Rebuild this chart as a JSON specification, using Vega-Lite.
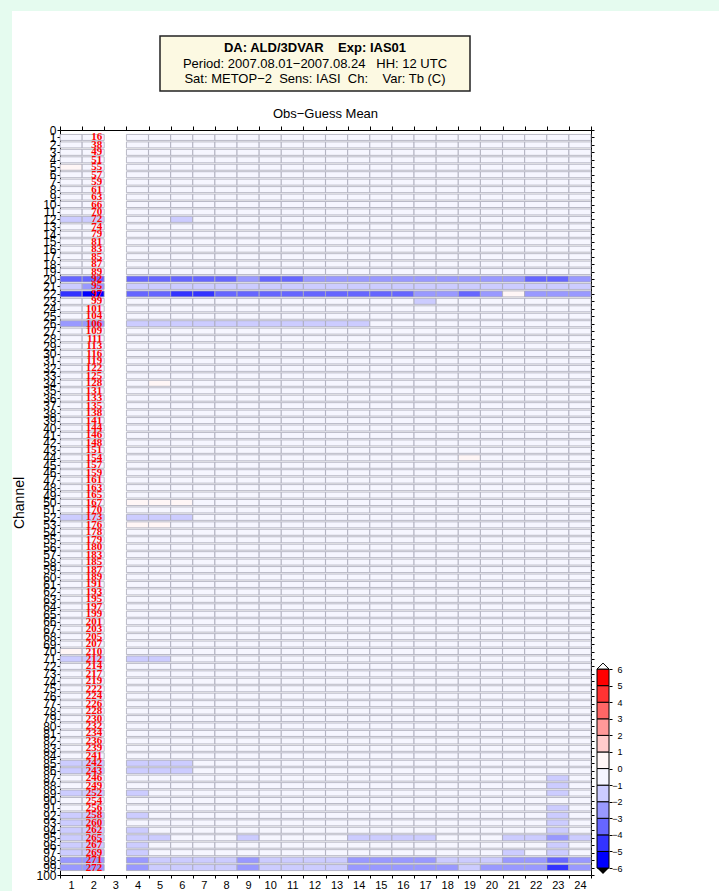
{
  "$schema": "https://vega.github.io/schema/vega-lite/v6.json",
  "background": "white",
  "padding": 0,
  "config": {
    "font": "Liberation Sans",
    "view": {"stroke": null},
    "axis": {"labelFont": "Liberation Sans", "titleFont": "Liberation Sans", "labelColor": "black", "titleColor": "black", "domainColor": "black", "tickColor": "black", "grid": false},
    "title": {"font": "Liberation Sans", "color": "black"}
  },
  "vconcat": [
    {"width": 719, "height": 11, "view": {"fill": "#e5fbef", "stroke": null}, "data": {"values": []}, "mark": "rect", "encoding": {}},
    {
      "hconcat": [
        {"width": 12, "height": 880, "view": {"fill": "#e5fbef", "stroke": null}, "data": {"values": []}, "mark": "rect", "encoding": {}},
        {
          "vconcat": [
            {"width": 1, "height": 8, "view": {"fill": "#ffffff", "stroke": null}, "data": {"values": []}, "mark": "rect", "encoding": {}},
            {
              "hconcat": [
                {"width": 99, "height": 55, "view": {"fill": "#ffffff", "stroke": null}, "data": {"values": []}, "mark": "rect", "encoding": {}},
                {
                  "width": 310,
                  "height": 55,
                  "view": {"fill": "#fcf9e2", "stroke": "#222222", "strokeWidth": 1.5},
                  "data": {"values": [
                    {"line": 1, "t": "DA: ALD/3DVAR\u00a0\u00a0\u00a0\u00a0Exp: IAS01"},
                    {"line": 2, "t": "Period: 2007.08.01\u22122007.08.24\u00a0\u00a0\u00a0HH: 12 UTC"},
                    {"line": 3, "t": "Sat: METOP\u22122\u00a0\u00a0Sens: IASI\u00a0\u00a0Ch:\u00a0\u00a0\u00a0\u00a0Var: Tb (C)"}
                  ]},
                  "layer": [
                    {
                      "transform": [{"filter": "datum.line == 1"}],
                      "mark": {"type": "text", "fontSize": 13, "fontWeight": "bold", "baseline": "middle", "color": "black"},
                      "encoding": {
                        "y": {"field": "line", "type": "ordinal", "scale": {"type": "point", "domain": [1, 2, 3], "padding": 0.77}, "axis": null},
                        "text": {"field": "t"}
                      }
                    },
                    {
                      "transform": [{"filter": "datum.line > 1"}],
                      "mark": {"type": "text", "fontSize": 13, "baseline": "middle", "color": "black"},
                      "encoding": {
                        "y": {"field": "line", "type": "ordinal", "axis": null},
                        "text": {"field": "t"}
                      }
                    }
                  ]
                }
              ],
              "spacing": 0
            },
            {
              "hconcat": [
                {
                  "width": 531,
                  "height": 745,
                  "title": {"text": "Obs\u2212Guess Mean", "fontSize": 13, "fontWeight": "normal", "offset": 3},
                  "data": {"values": [
{"i":1,"ch":16,"1":-0.4,"2":-0.4,"4":-0.4,"5":-0.4,"6":-0.4,"7":-0.4,"8":-0.4,"9":-0.4,"10":-0.4,"11":-0.4,"12":-0.4,"13":-0.4,"14":-0.4,"15":-0.4,"16":-0.4,"17":-0.4,"18":-0.4,"19":-0.4,"20":-0.4,"21":-0.4,"22":-0.4,"23":-0.4,"24":-0.4},
{"i":2,"ch":38,"1":-0.4,"2":-0.4,"4":-0.4,"5":-0.4,"6":-0.4,"7":-0.4,"8":-0.4,"9":-0.4,"10":-0.4,"11":-0.4,"12":-0.4,"13":-0.4,"14":-0.4,"15":-0.4,"16":-0.4,"17":-0.4,"18":-0.4,"19":-0.4,"20":-0.4,"21":-0.4,"22":-0.4,"23":-0.4,"24":-0.4},
{"i":3,"ch":49,"1":-0.4,"2":-0.4,"4":-0.4,"5":-0.4,"6":-0.4,"7":-0.4,"8":-0.4,"9":-0.4,"10":-0.4,"11":-0.4,"12":-0.4,"13":-0.4,"14":-0.4,"15":-0.4,"16":-0.4,"17":-0.4,"18":-0.4,"19":-0.4,"20":-0.4,"21":-0.4,"22":-0.4,"23":-0.4,"24":-0.4},
{"i":4,"ch":51,"1":-0.4,"2":-0.4,"4":-0.4,"5":-0.4,"6":-0.4,"7":-0.4,"8":-0.4,"9":-0.4,"10":-0.4,"11":-0.4,"12":-0.4,"13":-0.4,"14":-0.4,"15":-0.4,"16":-0.4,"17":-0.4,"18":-0.4,"19":-0.4,"20":-0.4,"21":-0.4,"22":-0.4,"23":-0.4,"24":-0.4},
{"i":5,"ch":55,"1":0.4,"2":-0.4,"4":-0.4,"5":-0.4,"6":-0.4,"7":-0.4,"8":-0.4,"9":-0.4,"10":-0.4,"11":-0.4,"12":-0.4,"13":-0.4,"14":-0.4,"15":-0.4,"16":-0.4,"17":-0.4,"18":-0.4,"19":-0.4,"20":-0.4,"21":-0.4,"22":-0.4,"23":-0.4,"24":-0.4},
{"i":6,"ch":57,"1":-0.4,"2":-0.4,"4":-0.4,"5":-0.4,"6":-0.4,"7":-0.4,"8":-0.4,"9":-0.4,"10":-0.4,"11":-0.4,"12":-0.4,"13":-0.4,"14":-0.4,"15":-0.4,"16":-0.4,"17":-0.4,"18":-0.4,"19":-0.4,"20":-0.4,"21":-0.4,"22":-0.4,"23":-0.4,"24":-0.4},
{"i":7,"ch":59,"1":-0.4,"2":-0.4,"4":-0.4,"5":-0.4,"6":-0.4,"7":-0.4,"8":-0.4,"9":-0.4,"10":-0.4,"11":-0.4,"12":-0.4,"13":-0.4,"14":-0.4,"15":-0.4,"16":-0.4,"17":-0.4,"18":-0.4,"19":-0.4,"20":-0.4,"21":-0.4,"22":-0.4,"23":-0.4,"24":-0.4},
{"i":8,"ch":61,"1":-0.4,"2":-0.4,"4":-0.4,"5":-0.4,"6":-0.4,"7":-0.4,"8":-0.4,"9":-0.4,"10":-0.4,"11":-0.4,"12":-0.4,"13":-0.4,"14":-0.4,"15":-0.4,"16":-0.4,"17":-0.4,"18":-0.4,"19":-0.4,"20":-0.4,"21":-0.4,"22":-0.4,"23":-0.4,"24":-0.4},
{"i":9,"ch":63,"1":-0.4,"2":-0.4,"4":-0.4,"5":-0.4,"6":-0.4,"7":-0.4,"8":-0.4,"9":-0.4,"10":-0.4,"11":-0.4,"12":-0.4,"13":-0.4,"14":-0.4,"15":-0.4,"16":-0.4,"17":-0.4,"18":-0.4,"19":-0.4,"20":-0.4,"21":-0.4,"22":-0.4,"23":-0.4,"24":-0.4},
{"i":10,"ch":66,"1":-0.4,"2":-0.4,"4":-0.4,"5":-0.4,"6":-0.4,"7":-0.4,"8":-0.4,"9":-0.4,"10":-0.4,"11":-0.4,"12":-0.4,"13":-0.4,"14":-0.4,"15":-0.4,"16":-0.4,"17":-0.4,"18":-0.4,"19":-0.4,"20":-0.4,"21":-0.4,"22":-0.4,"23":-0.4,"24":-0.4},
{"i":11,"ch":70,"1":-0.4,"2":-0.4,"4":-0.4,"5":-0.4,"6":-0.4,"7":-0.4,"8":-0.4,"9":-0.4,"10":-0.4,"11":-0.4,"12":-0.4,"13":-0.4,"14":-0.4,"15":-0.4,"16":-0.4,"17":-0.4,"18":-0.4,"19":-0.4,"20":-0.4,"21":-0.4,"22":-0.4,"23":-0.4,"24":-0.4},
{"i":12,"ch":72,"1":-1.5,"2":-1.5,"4":-0.4,"5":-0.4,"6":-1.5,"7":-0.4,"8":-0.4,"9":-0.4,"10":-0.4,"11":-0.4,"12":-0.4,"13":-0.4,"14":-0.4,"15":-0.4,"16":-0.4,"17":-0.4,"18":-0.4,"19":-0.4,"20":-0.4,"21":-0.4,"22":-0.4,"23":-0.4,"24":-0.4},
{"i":13,"ch":74,"1":-0.4,"2":-0.4,"4":-0.4,"5":-0.4,"6":-0.4,"7":-0.4,"8":-0.4,"9":-0.4,"10":-0.4,"11":-0.4,"12":-0.4,"13":-0.4,"14":-0.4,"15":-0.4,"16":-0.4,"17":-0.4,"18":-0.4,"19":-0.4,"20":-0.4,"21":-0.4,"22":-0.4,"23":-0.4,"24":-0.4},
{"i":14,"ch":79,"1":-0.4,"2":-0.4,"4":-0.4,"5":-0.4,"6":-0.4,"7":-0.4,"8":-0.4,"9":-0.4,"10":-0.4,"11":-0.4,"12":-0.4,"13":-0.4,"14":-0.4,"15":-0.4,"16":-0.4,"17":-0.4,"18":-0.4,"19":-0.4,"20":-0.4,"21":-0.4,"22":-0.4,"23":-0.4,"24":-0.4},
{"i":15,"ch":81,"1":-0.4,"2":-0.4,"4":-0.4,"5":-0.4,"6":-0.4,"7":-0.4,"8":-0.4,"9":-0.4,"10":-0.4,"11":-0.4,"12":-0.4,"13":-0.4,"14":-0.4,"15":-0.4,"16":-0.4,"17":-0.4,"18":-0.4,"19":-0.4,"20":-0.4,"21":-0.4,"22":-0.4,"23":-0.4,"24":-0.4},
{"i":16,"ch":83,"1":-0.4,"2":-0.4,"4":-0.4,"5":-0.4,"6":-0.4,"7":-0.4,"8":-0.4,"9":-0.4,"10":-0.4,"11":-0.4,"12":-0.4,"13":-0.4,"14":-0.4,"15":-0.4,"16":-0.4,"17":-0.4,"18":-0.4,"19":-0.4,"20":-0.4,"21":-0.4,"22":-0.4,"23":-0.4,"24":-0.4},
{"i":17,"ch":85,"1":-0.4,"2":-0.4,"4":-0.4,"5":-0.4,"6":-0.4,"7":-0.4,"8":-0.4,"9":-0.4,"10":-0.4,"11":-0.4,"12":-0.4,"13":-0.4,"14":-0.4,"15":-0.4,"16":-0.4,"17":-0.4,"18":-0.4,"19":-0.4,"20":-0.4,"21":-0.4,"22":-0.4,"23":-0.4,"24":-0.4},
{"i":18,"ch":87,"1":-0.4,"2":-0.4,"4":-0.4,"5":-0.4,"6":-0.4,"7":-0.4,"8":-0.4,"9":-0.4,"10":-0.4,"11":-0.4,"12":-0.4,"13":-0.4,"14":-0.4,"15":-0.4,"16":-0.4,"17":-0.4,"18":-0.4,"19":-0.4,"20":-0.4,"21":-0.4,"22":-0.4,"23":-0.4,"24":-0.4},
{"i":19,"ch":89,"1":-0.4,"2":-0.4,"4":-0.4,"5":-0.4,"6":-0.4,"7":-0.4,"8":-0.4,"9":-0.4,"10":-0.4,"11":-0.4,"12":-0.4,"13":-0.4,"14":-0.4,"15":-0.4,"16":-0.4,"17":-0.4,"18":-0.4,"19":-0.4,"20":-0.4,"21":-0.4,"22":-0.4,"23":-0.4,"24":-0.4},
{"i":20,"ch":92,"1":-3.5,"2":-3.5,"4":-3.5,"5":-3.5,"6":-3.5,"7":-3.5,"8":-3.5,"9":-2.5,"10":-3.5,"11":-3.5,"12":-2.5,"13":-2.5,"14":-2.5,"15":-2.5,"16":-2.5,"17":-2.5,"18":-2.5,"19":-2.5,"20":-2.5,"21":-2.5,"22":-3.5,"23":-3.5,"24":-2.5},
{"i":21,"ch":95,"1":-1.5,"2":-2.5,"4":-1.5,"5":-1.5,"6":-1.5,"7":-1.5,"8":-1.5,"9":-1.5,"10":-1.5,"11":-1.5,"12":-1.5,"13":-1.5,"14":-1.5,"15":-1.5,"16":-1.5,"17":-1.5,"18":-1.5,"19":-1.5,"20":-1.5,"21":-1.5,"22":-1.5,"23":-1.5,"24":-1.5},
{"i":22,"ch":97,"1":-4.5,"2":-5.5,"4":-3.5,"5":-3.5,"6":-4.5,"7":-4.5,"8":-3.5,"9":-3.5,"10":-3.5,"11":-3.5,"12":-3.5,"13":-3.5,"14":-3.5,"15":-3.5,"16":-3.5,"17":-2.5,"18":-2.5,"19":-3.5,"20":-2.5,"21":0.4,"22":-2.5,"23":-2.5,"24":-2.5},
{"i":23,"ch":99,"1":-0.4,"2":-0.4,"4":-0.4,"5":-0.4,"6":-0.4,"7":-0.4,"8":-0.4,"9":-0.4,"10":-0.4,"11":-0.4,"12":-0.4,"13":-0.4,"14":-0.4,"15":-0.4,"16":-0.4,"17":-1.5,"18":-0.4,"19":-0.4,"20":-0.4,"21":-0.4,"22":-0.4,"23":-0.4,"24":-0.4},
{"i":24,"ch":101,"1":-0.4,"2":-0.4,"4":-0.4,"5":-0.4,"6":-0.4,"7":-0.4,"8":-0.4,"9":-0.4,"10":-0.4,"11":-0.4,"12":-0.4,"13":-0.4,"14":-0.4,"15":-0.4,"16":-0.4,"17":-0.4,"18":-0.4,"19":-0.4,"20":-0.4,"21":-0.4,"22":-0.4,"23":-0.4,"24":-0.4},
{"i":25,"ch":104,"1":-0.4,"2":-0.4,"4":-0.4,"5":-0.4,"6":-0.4,"7":-0.4,"8":-0.4,"9":-0.4,"10":-0.4,"11":-0.4,"12":-0.4,"13":-0.4,"14":-0.4,"15":-0.4,"16":-0.4,"17":-0.4,"18":-0.4,"19":-0.4,"20":-0.4,"21":-0.4,"22":-0.4,"23":-0.4,"24":-0.4},
{"i":26,"ch":106,"1":-2.5,"2":-2.5,"4":-1.5,"5":-1.5,"6":-1.5,"7":-1.5,"8":-1.5,"9":-1.5,"10":-1.5,"11":-1.5,"12":-1.5,"13":-1.5,"14":-1.5,"15":-0.4,"16":-0.4,"17":-0.4,"18":-0.4,"19":-0.4,"20":-0.4,"21":-0.4,"22":-0.4,"23":-0.4,"24":-0.4},
{"i":27,"ch":109,"1":-0.4,"2":-0.4,"4":-0.4,"5":-0.4,"6":-0.4,"7":-0.4,"8":-0.4,"9":-0.4,"10":-0.4,"11":-0.4,"12":-0.4,"13":-0.4,"14":-0.4,"15":-0.4,"16":-0.4,"17":-0.4,"18":-0.4,"19":-0.4,"20":-0.4,"21":-0.4,"22":-0.4,"23":-0.4,"24":-0.4},
{"i":28,"ch":111,"1":-0.4,"2":-0.4,"4":-0.4,"5":-0.4,"6":-0.4,"7":-0.4,"8":-0.4,"9":-0.4,"10":-0.4,"11":-0.4,"12":-0.4,"13":-0.4,"14":-0.4,"15":-0.4,"16":-0.4,"17":-0.4,"18":-0.4,"19":-0.4,"20":-0.4,"21":-0.4,"22":-0.4,"23":-0.4,"24":-0.4},
{"i":29,"ch":113,"1":-0.4,"2":-0.4,"4":-0.4,"5":-0.4,"6":-0.4,"7":-0.4,"8":-0.4,"9":-0.4,"10":-0.4,"11":-0.4,"12":-0.4,"13":-0.4,"14":-0.4,"15":-0.4,"16":-0.4,"17":-0.4,"18":-0.4,"19":-0.4,"20":-0.4,"21":-0.4,"22":-0.4,"23":-0.4,"24":-0.4},
{"i":30,"ch":116,"1":-0.4,"2":-0.4,"4":-0.4,"5":-0.4,"6":-0.4,"7":-0.4,"8":-0.4,"9":-0.4,"10":-0.4,"11":-0.4,"12":-0.4,"13":-0.4,"14":-0.4,"15":-0.4,"16":-0.4,"17":-0.4,"18":-0.4,"19":-0.4,"20":-0.4,"21":-0.4,"22":-0.4,"23":-0.4,"24":-0.4},
{"i":31,"ch":119,"1":-0.4,"2":-0.4,"4":-0.4,"5":-0.4,"6":-0.4,"7":-0.4,"8":-0.4,"9":-0.4,"10":-0.4,"11":-0.4,"12":-0.4,"13":-0.4,"14":-0.4,"15":-0.4,"16":-0.4,"17":-0.4,"18":-0.4,"19":-0.4,"20":-0.4,"21":-0.4,"22":-0.4,"23":-0.4,"24":-0.4},
{"i":32,"ch":122,"1":-0.4,"2":-0.4,"4":-0.4,"5":-0.4,"6":-0.4,"7":-0.4,"8":-0.4,"9":-0.4,"10":-0.4,"11":-0.4,"12":-0.4,"13":-0.4,"14":-0.4,"15":-0.4,"16":-0.4,"17":-0.4,"18":-0.4,"19":-0.4,"20":-0.4,"21":-0.4,"22":-0.4,"23":-0.4,"24":-0.4},
{"i":33,"ch":125,"1":-0.4,"2":-0.4,"4":-0.4,"5":-0.4,"6":-0.4,"7":-0.4,"8":-0.4,"9":-0.4,"10":-0.4,"11":-0.4,"12":-0.4,"13":-0.4,"14":-0.4,"15":-0.4,"16":-0.4,"17":-0.4,"18":-0.4,"19":-0.4,"20":-0.4,"21":-0.4,"22":-0.4,"23":-0.4,"24":-0.4},
{"i":34,"ch":128,"1":-0.4,"2":-0.4,"4":-0.4,"5":0.4,"6":-0.4,"7":-0.4,"8":-0.4,"9":-0.4,"10":-0.4,"11":-0.4,"12":-0.4,"13":-0.4,"14":-0.4,"15":-0.4,"16":-0.4,"17":-0.4,"18":-0.4,"19":-0.4,"20":-0.4,"21":-0.4,"22":-0.4,"23":-0.4,"24":-0.4},
{"i":35,"ch":131,"1":-0.4,"2":-0.4,"4":-0.4,"5":-0.4,"6":-0.4,"7":-0.4,"8":-0.4,"9":-0.4,"10":-0.4,"11":-0.4,"12":-0.4,"13":-0.4,"14":-0.4,"15":-0.4,"16":-0.4,"17":-0.4,"18":-0.4,"19":-0.4,"20":-0.4,"21":-0.4,"22":-0.4,"23":-0.4,"24":-0.4},
{"i":36,"ch":133,"1":-0.4,"2":-0.4,"4":-0.4,"5":-0.4,"6":-0.4,"7":-0.4,"8":-0.4,"9":-0.4,"10":-0.4,"11":-0.4,"12":-0.4,"13":-0.4,"14":-0.4,"15":-0.4,"16":-0.4,"17":-0.4,"18":-0.4,"19":-0.4,"20":-0.4,"21":-0.4,"22":-0.4,"23":-0.4,"24":-0.4},
{"i":37,"ch":135,"1":-0.4,"2":-0.4,"4":-0.4,"5":-0.4,"6":-0.4,"7":-0.4,"8":-0.4,"9":-0.4,"10":-0.4,"11":-0.4,"12":-0.4,"13":-0.4,"14":-0.4,"15":-0.4,"16":-0.4,"17":-0.4,"18":-0.4,"19":-0.4,"20":-0.4,"21":-0.4,"22":-0.4,"23":-0.4,"24":-0.4},
{"i":38,"ch":138,"1":-0.4,"2":-0.4,"4":-0.4,"5":-0.4,"6":-0.4,"7":-0.4,"8":-0.4,"9":-0.4,"10":-0.4,"11":-0.4,"12":-0.4,"13":-0.4,"14":-0.4,"15":-0.4,"16":-0.4,"17":-0.4,"18":-0.4,"19":-0.4,"20":-0.4,"21":-0.4,"22":-0.4,"23":-0.4,"24":-0.4},
{"i":39,"ch":141,"1":-0.4,"2":-0.4,"4":-0.4,"5":-0.4,"6":-0.4,"7":-0.4,"8":-0.4,"9":-0.4,"10":-0.4,"11":-0.4,"12":-0.4,"13":-0.4,"14":-0.4,"15":-0.4,"16":-0.4,"17":-0.4,"18":-0.4,"19":-0.4,"20":-0.4,"21":-0.4,"22":-0.4,"23":-0.4,"24":-0.4},
{"i":40,"ch":144,"1":-0.4,"2":-0.4,"4":-0.4,"5":-0.4,"6":-0.4,"7":-0.4,"8":-0.4,"9":-0.4,"10":-0.4,"11":-0.4,"12":-0.4,"13":-0.4,"14":-0.4,"15":-0.4,"16":-0.4,"17":-0.4,"18":-0.4,"19":-0.4,"20":-0.4,"21":-0.4,"22":-0.4,"23":-0.4,"24":-0.4},
{"i":41,"ch":146,"1":-0.4,"2":-0.4,"4":-0.4,"5":-0.4,"6":-0.4,"7":-0.4,"8":-0.4,"9":-0.4,"10":-0.4,"11":-0.4,"12":-0.4,"13":-0.4,"14":-0.4,"15":-0.4,"16":-0.4,"17":-0.4,"18":-0.4,"19":-0.4,"20":-0.4,"21":-0.4,"22":-0.4,"23":-0.4,"24":-0.4},
{"i":42,"ch":148,"1":-0.4,"2":-0.4,"4":-0.4,"5":-0.4,"6":-0.4,"7":-0.4,"8":-0.4,"9":-0.4,"10":-0.4,"11":-0.4,"12":-0.4,"13":-0.4,"14":-0.4,"15":-0.4,"16":-0.4,"17":-0.4,"18":-0.4,"19":-0.4,"20":-0.4,"21":-0.4,"22":-0.4,"23":-0.4,"24":-0.4},
{"i":43,"ch":151,"1":-0.4,"2":-0.4,"4":-0.4,"5":-0.4,"6":-0.4,"7":-0.4,"8":-0.4,"9":-0.4,"10":-0.4,"11":-0.4,"12":-0.4,"13":-0.4,"14":-0.4,"15":-0.4,"16":-0.4,"17":-0.4,"18":-0.4,"19":-0.4,"20":-0.4,"21":-0.4,"22":-0.4,"23":-0.4,"24":-0.4},
{"i":44,"ch":154,"1":-0.4,"2":-0.4,"4":-0.4,"5":-0.4,"6":-0.4,"7":-0.4,"8":-0.4,"9":-0.4,"10":-0.4,"11":-0.4,"12":-0.4,"13":-0.4,"14":-0.4,"15":-0.4,"16":-0.4,"17":-0.4,"18":-0.4,"19":0.4,"20":-0.4,"21":-0.4,"22":-0.4,"23":-0.4,"24":-0.4},
{"i":45,"ch":157,"1":-0.4,"2":-0.4,"4":-0.4,"5":-0.4,"6":-0.4,"7":-0.4,"8":-0.4,"9":-0.4,"10":-0.4,"11":-0.4,"12":-0.4,"13":-0.4,"14":-0.4,"15":-0.4,"16":-0.4,"17":-0.4,"18":-0.4,"19":-0.4,"20":-0.4,"21":-0.4,"22":-0.4,"23":-0.4,"24":-0.4},
{"i":46,"ch":159,"1":-0.4,"2":-0.4,"4":-0.4,"5":-0.4,"6":-0.4,"7":-0.4,"8":-0.4,"9":-0.4,"10":-0.4,"11":-0.4,"12":-0.4,"13":-0.4,"14":-0.4,"15":-0.4,"16":-0.4,"17":-0.4,"18":-0.4,"19":-0.4,"20":-0.4,"21":-0.4,"22":-0.4,"23":-0.4,"24":-0.4},
{"i":47,"ch":161,"1":-0.4,"2":-0.4,"4":-0.4,"5":-0.4,"6":-0.4,"7":-0.4,"8":-0.4,"9":-0.4,"10":-0.4,"11":-0.4,"12":-0.4,"13":-0.4,"14":-0.4,"15":-0.4,"16":-0.4,"17":-0.4,"18":-0.4,"19":-0.4,"20":-0.4,"21":-0.4,"22":-0.4,"23":-0.4,"24":-0.4},
{"i":48,"ch":163,"1":-0.4,"2":-0.4,"4":-0.4,"5":-0.4,"6":-0.4,"7":-0.4,"8":-0.4,"9":-0.4,"10":-0.4,"11":-0.4,"12":-0.4,"13":-0.4,"14":-0.4,"15":-0.4,"16":-0.4,"17":-0.4,"18":-0.4,"19":-0.4,"20":-0.4,"21":-0.4,"22":-0.4,"23":-0.4,"24":-0.4},
{"i":49,"ch":165,"1":-0.4,"2":-0.4,"4":-0.4,"5":-0.4,"6":-0.4,"7":-0.4,"8":-0.4,"9":-0.4,"10":-0.4,"11":-0.4,"12":-0.4,"13":-0.4,"14":-0.4,"15":-0.4,"16":-0.4,"17":-0.4,"18":-0.4,"19":-0.4,"20":-0.4,"21":-0.4,"22":-0.4,"23":-0.4,"24":-0.4},
{"i":50,"ch":167,"1":-0.4,"2":-0.4,"4":0.4,"5":0.4,"6":0.4,"7":-0.4,"8":-0.4,"9":-0.4,"10":-0.4,"11":-0.4,"12":-0.4,"13":-0.4,"14":-0.4,"15":-0.4,"16":-0.4,"17":-0.4,"18":-0.4,"19":-0.4,"20":-0.4,"21":-0.4,"22":-0.4,"23":-0.4,"24":-0.4},
{"i":51,"ch":170,"1":-0.4,"2":-0.4,"4":-0.4,"5":-0.4,"6":-0.4,"7":-0.4,"8":-0.4,"9":-0.4,"10":-0.4,"11":-0.4,"12":-0.4,"13":-0.4,"14":-0.4,"15":-0.4,"16":-0.4,"17":-0.4,"18":-0.4,"19":-0.4,"20":-0.4,"21":-0.4,"22":-0.4,"23":-0.4,"24":-0.4},
{"i":52,"ch":173,"1":-1.5,"2":-1.5,"4":-1.5,"5":-1.5,"6":-1.5,"7":-0.4,"8":-0.4,"9":-0.4,"10":-0.4,"11":-0.4,"12":-0.4,"13":-0.4,"14":-0.4,"15":-0.4,"16":-0.4,"17":-0.4,"18":-0.4,"19":-0.4,"20":-0.4,"21":-0.4,"22":-0.4,"23":-0.4,"24":-0.4},
{"i":53,"ch":176,"1":-0.4,"2":-0.4,"4":0.4,"5":0.4,"6":-0.4,"7":-0.4,"8":-0.4,"9":-0.4,"10":-0.4,"11":-0.4,"12":-0.4,"13":-0.4,"14":-0.4,"15":-0.4,"16":-0.4,"17":-0.4,"18":-0.4,"19":-0.4,"20":-0.4,"21":-0.4,"22":-0.4,"23":-0.4,"24":-0.4},
{"i":54,"ch":178,"1":-0.4,"2":-0.4,"4":-0.4,"5":-0.4,"6":-0.4,"7":-0.4,"8":-0.4,"9":-0.4,"10":-0.4,"11":-0.4,"12":-0.4,"13":-0.4,"14":-0.4,"15":-0.4,"16":-0.4,"17":-0.4,"18":-0.4,"19":-0.4,"20":-0.4,"21":-0.4,"22":-0.4,"23":-0.4,"24":-0.4},
{"i":55,"ch":179,"1":-0.4,"2":-0.4,"4":-0.4,"5":-0.4,"6":-0.4,"7":-0.4,"8":-0.4,"9":-0.4,"10":-0.4,"11":-0.4,"12":-0.4,"13":-0.4,"14":-0.4,"15":-0.4,"16":-0.4,"17":-0.4,"18":-0.4,"19":-0.4,"20":-0.4,"21":-0.4,"22":-0.4,"23":-0.4,"24":-0.4},
{"i":56,"ch":180,"1":-0.4,"2":-0.4,"4":-0.4,"5":-0.4,"6":-0.4,"7":-0.4,"8":-0.4,"9":-0.4,"10":-0.4,"11":-0.4,"12":-0.4,"13":-0.4,"14":-0.4,"15":-0.4,"16":-0.4,"17":-0.4,"18":-0.4,"19":-0.4,"20":-0.4,"21":-0.4,"22":-0.4,"23":-0.4,"24":-0.4},
{"i":57,"ch":183,"1":-0.4,"2":-0.4,"4":-0.4,"5":-0.4,"6":-0.4,"7":-0.4,"8":-0.4,"9":-0.4,"10":-0.4,"11":-0.4,"12":-0.4,"13":-0.4,"14":-0.4,"15":-0.4,"16":-0.4,"17":-0.4,"18":-0.4,"19":-0.4,"20":-0.4,"21":-0.4,"22":-0.4,"23":-0.4,"24":-0.4},
{"i":58,"ch":185,"1":-0.4,"2":-0.4,"4":-0.4,"5":-0.4,"6":-0.4,"7":-0.4,"8":-0.4,"9":-0.4,"10":-0.4,"11":-0.4,"12":-0.4,"13":-0.4,"14":-0.4,"15":-0.4,"16":-0.4,"17":-0.4,"18":-0.4,"19":-0.4,"20":-0.4,"21":-0.4,"22":-0.4,"23":-0.4,"24":-0.4},
{"i":59,"ch":187,"1":-0.4,"2":-0.4,"4":-0.4,"5":-0.4,"6":-0.4,"7":-0.4,"8":-0.4,"9":-0.4,"10":-0.4,"11":-0.4,"12":-0.4,"13":-0.4,"14":-0.4,"15":-0.4,"16":-0.4,"17":-0.4,"18":-0.4,"19":-0.4,"20":-0.4,"21":-0.4,"22":-0.4,"23":-0.4,"24":-0.4},
{"i":60,"ch":189,"1":-0.4,"2":-0.4,"4":-0.4,"5":-0.4,"6":-0.4,"7":-0.4,"8":-0.4,"9":-0.4,"10":-0.4,"11":-0.4,"12":-0.4,"13":-0.4,"14":-0.4,"15":-0.4,"16":-0.4,"17":-0.4,"18":-0.4,"19":-0.4,"20":-0.4,"21":-0.4,"22":-0.4,"23":-0.4,"24":-0.4},
{"i":61,"ch":191,"1":-0.4,"2":-0.4,"4":-0.4,"5":-0.4,"6":-0.4,"7":-0.4,"8":-0.4,"9":-0.4,"10":-0.4,"11":-0.4,"12":-0.4,"13":-0.4,"14":-0.4,"15":-0.4,"16":-0.4,"17":-0.4,"18":-0.4,"19":-0.4,"20":-0.4,"21":-0.4,"22":-0.4,"23":-0.4,"24":-0.4},
{"i":62,"ch":193,"1":-0.4,"2":-0.4,"4":-0.4,"5":-0.4,"6":-0.4,"7":-0.4,"8":-0.4,"9":-0.4,"10":-0.4,"11":-0.4,"12":-0.4,"13":-0.4,"14":-0.4,"15":-0.4,"16":-0.4,"17":-0.4,"18":-0.4,"19":-0.4,"20":-0.4,"21":-0.4,"22":-0.4,"23":-0.4,"24":-0.4},
{"i":63,"ch":195,"1":-0.4,"2":-0.4,"4":-0.4,"5":-0.4,"6":-0.4,"7":-0.4,"8":-0.4,"9":-0.4,"10":-0.4,"11":-0.4,"12":-0.4,"13":-0.4,"14":-0.4,"15":-0.4,"16":-0.4,"17":-0.4,"18":-0.4,"19":-0.4,"20":-0.4,"21":-0.4,"22":-0.4,"23":-0.4,"24":-0.4},
{"i":64,"ch":197,"1":-0.4,"2":-0.4,"4":-0.4,"5":-0.4,"6":-0.4,"7":-0.4,"8":-0.4,"9":-0.4,"10":-0.4,"11":-0.4,"12":-0.4,"13":-0.4,"14":-0.4,"15":-0.4,"16":-0.4,"17":-0.4,"18":-0.4,"19":-0.4,"20":-0.4,"21":-0.4,"22":-0.4,"23":-0.4,"24":-0.4},
{"i":65,"ch":199,"1":-0.4,"2":-0.4,"4":-0.4,"5":-0.4,"6":-0.4,"7":-0.4,"8":-0.4,"9":-0.4,"10":-0.4,"11":-0.4,"12":-0.4,"13":-0.4,"14":-0.4,"15":-0.4,"16":-0.4,"17":-0.4,"18":-0.4,"19":-0.4,"20":-0.4,"21":-0.4,"22":-0.4,"23":-0.4,"24":-0.4},
{"i":66,"ch":201,"1":-0.4,"2":-0.4,"4":-0.4,"5":-0.4,"6":-0.4,"7":-0.4,"8":-0.4,"9":-0.4,"10":-0.4,"11":-0.4,"12":-0.4,"13":-0.4,"14":-0.4,"15":-0.4,"16":-0.4,"17":-0.4,"18":-0.4,"19":-0.4,"20":-0.4,"21":-0.4,"22":-0.4,"23":-0.4,"24":-0.4},
{"i":67,"ch":203,"1":-0.4,"2":-0.4,"4":-0.4,"5":-0.4,"6":-0.4,"7":-0.4,"8":-0.4,"9":-0.4,"10":-0.4,"11":-0.4,"12":-0.4,"13":-0.4,"14":-0.4,"15":-0.4,"16":-0.4,"17":-0.4,"18":-0.4,"19":-0.4,"20":-0.4,"21":-0.4,"22":-0.4,"23":-0.4,"24":-0.4},
{"i":68,"ch":205,"1":-0.4,"2":-0.4,"4":-0.4,"5":-0.4,"6":-0.4,"7":-0.4,"8":-0.4,"9":-0.4,"10":-0.4,"11":-0.4,"12":-0.4,"13":-0.4,"14":-0.4,"15":-0.4,"16":-0.4,"17":-0.4,"18":-0.4,"19":-0.4,"20":-0.4,"21":-0.4,"22":-0.4,"23":-0.4,"24":-0.4},
{"i":69,"ch":207,"1":-0.4,"2":-0.4,"4":-0.4,"5":-0.4,"6":-0.4,"7":-0.4,"8":-0.4,"9":-0.4,"10":-0.4,"11":-0.4,"12":-0.4,"13":-0.4,"14":-0.4,"15":-0.4,"16":-0.4,"17":-0.4,"18":-0.4,"19":-0.4,"20":-0.4,"21":-0.4,"22":-0.4,"23":-0.4,"24":-0.4},
{"i":70,"ch":210,"1":0.4,"2":-0.4,"4":-0.4,"5":-0.4,"6":-0.4,"7":-0.4,"8":-0.4,"9":-0.4,"10":-0.4,"11":-0.4,"12":-0.4,"13":-0.4,"14":-0.4,"15":-0.4,"16":-0.4,"17":-0.4,"18":-0.4,"19":-0.4,"20":-0.4,"21":-0.4,"22":-0.4,"23":-0.4,"24":-0.4},
{"i":71,"ch":212,"1":-1.5,"2":-1.5,"4":-1.5,"5":-1.5,"6":-0.4,"7":-0.4,"8":-0.4,"9":-0.4,"10":-0.4,"11":-0.4,"12":-0.4,"13":-0.4,"14":-0.4,"15":-0.4,"16":-0.4,"17":-0.4,"18":-0.4,"19":-0.4,"20":-0.4,"21":-0.4,"22":-0.4,"23":-0.4,"24":-0.4},
{"i":72,"ch":214,"1":-0.4,"2":-0.4,"4":-0.4,"5":-0.4,"6":-0.4,"7":-0.4,"8":-0.4,"9":-0.4,"10":-0.4,"11":-0.4,"12":-0.4,"13":-0.4,"14":-0.4,"15":-0.4,"16":-0.4,"17":-0.4,"18":-0.4,"19":-0.4,"20":-0.4,"21":-0.4,"22":-0.4,"23":-0.4,"24":-0.4},
{"i":73,"ch":217,"1":-0.4,"2":-0.4,"4":-0.4,"5":-0.4,"6":-0.4,"7":-0.4,"8":-0.4,"9":-0.4,"10":-0.4,"11":-0.4,"12":-0.4,"13":-0.4,"14":-0.4,"15":-0.4,"16":-0.4,"17":-0.4,"18":-0.4,"19":-0.4,"20":-0.4,"21":-0.4,"22":-0.4,"23":-0.4,"24":-0.4},
{"i":74,"ch":219,"1":-0.4,"2":-0.4,"4":-0.4,"5":-0.4,"6":-0.4,"7":-0.4,"8":-0.4,"9":-0.4,"10":-0.4,"11":-0.4,"12":-0.4,"13":-0.4,"14":-0.4,"15":-0.4,"16":-0.4,"17":-0.4,"18":-0.4,"19":-0.4,"20":-0.4,"21":-0.4,"22":-0.4,"23":-0.4,"24":-0.4},
{"i":75,"ch":222,"1":-0.4,"2":-0.4,"4":-0.4,"5":-0.4,"6":-0.4,"7":-0.4,"8":-0.4,"9":-0.4,"10":-0.4,"11":-0.4,"12":-0.4,"13":-0.4,"14":-0.4,"15":-0.4,"16":-0.4,"17":-0.4,"18":-0.4,"19":-0.4,"20":-0.4,"21":-0.4,"22":-0.4,"23":-0.4,"24":-0.4},
{"i":76,"ch":224,"1":-0.4,"2":-0.4,"4":-0.4,"5":-0.4,"6":-0.4,"7":-0.4,"8":-0.4,"9":-0.4,"10":-0.4,"11":-0.4,"12":-0.4,"13":-0.4,"14":-0.4,"15":-0.4,"16":-0.4,"17":-0.4,"18":-0.4,"19":-0.4,"20":-0.4,"21":-0.4,"22":-0.4,"23":-0.4,"24":-0.4},
{"i":77,"ch":226,"1":-0.4,"2":-0.4,"4":-0.4,"5":-0.4,"6":-0.4,"7":-0.4,"8":-0.4,"9":-0.4,"10":-0.4,"11":-0.4,"12":-0.4,"13":-0.4,"14":-0.4,"15":-0.4,"16":-0.4,"17":-0.4,"18":-0.4,"19":-0.4,"20":-0.4,"21":-0.4,"22":-0.4,"23":-0.4,"24":-0.4},
{"i":78,"ch":228,"1":-0.4,"2":-0.4,"4":-0.4,"5":-0.4,"6":-0.4,"7":-0.4,"8":-0.4,"9":-0.4,"10":-0.4,"11":-0.4,"12":-0.4,"13":-0.4,"14":-0.4,"15":-0.4,"16":-0.4,"17":-0.4,"18":-0.4,"19":-0.4,"20":-0.4,"21":-0.4,"22":-0.4,"23":-0.4,"24":-0.4},
{"i":79,"ch":230,"1":-0.4,"2":-0.4,"4":-0.4,"5":-0.4,"6":-0.4,"7":-0.4,"8":-0.4,"9":-0.4,"10":-0.4,"11":-0.4,"12":-0.4,"13":-0.4,"14":-0.4,"15":-0.4,"16":-0.4,"17":-0.4,"18":-0.4,"19":-0.4,"20":-0.4,"21":-0.4,"22":-0.4,"23":-0.4,"24":-0.4},
{"i":80,"ch":232,"1":-0.4,"2":-0.4,"4":-0.4,"5":-0.4,"6":-0.4,"7":-0.4,"8":-0.4,"9":-0.4,"10":-0.4,"11":-0.4,"12":-0.4,"13":-0.4,"14":-0.4,"15":-0.4,"16":-0.4,"17":-0.4,"18":-0.4,"19":-0.4,"20":-0.4,"21":-0.4,"22":-0.4,"23":-0.4,"24":-0.4},
{"i":81,"ch":234,"1":-0.4,"2":-0.4,"4":-0.4,"5":-0.4,"6":-0.4,"7":-0.4,"8":-0.4,"9":-0.4,"10":-0.4,"11":-0.4,"12":-0.4,"13":-0.4,"14":-0.4,"15":-0.4,"16":-0.4,"17":-0.4,"18":-0.4,"19":-0.4,"20":-0.4,"21":-0.4,"22":-0.4,"23":-0.4,"24":-0.4},
{"i":82,"ch":236,"1":-0.4,"2":-0.4,"4":-0.4,"5":-0.4,"6":-0.4,"7":-0.4,"8":-0.4,"9":-0.4,"10":-0.4,"11":-0.4,"12":-0.4,"13":-0.4,"14":-0.4,"15":-0.4,"16":-0.4,"17":-0.4,"18":-0.4,"19":-0.4,"20":-0.4,"21":-0.4,"22":-0.4,"23":-0.4,"24":-0.4},
{"i":83,"ch":239,"1":-0.4,"2":-0.4,"4":-0.4,"5":-0.4,"6":-0.4,"7":-0.4,"8":-0.4,"9":-0.4,"10":-0.4,"11":-0.4,"12":-0.4,"13":-0.4,"14":-0.4,"15":-0.4,"16":-0.4,"17":-0.4,"18":-0.4,"19":-0.4,"20":-0.4,"21":-0.4,"22":-0.4,"23":-0.4,"24":-0.4},
{"i":84,"ch":241,"1":-0.4,"2":-0.4,"4":-0.4,"5":-0.4,"6":-0.4,"7":-0.4,"8":-0.4,"9":-0.4,"10":-0.4,"11":-0.4,"12":-0.4,"13":-0.4,"14":-0.4,"15":-0.4,"16":-0.4,"17":-0.4,"18":-0.4,"19":-0.4,"20":-0.4,"21":-0.4,"22":-0.4,"23":-0.4,"24":-0.4},
{"i":85,"ch":242,"1":-1.5,"2":-1.5,"4":-1.5,"5":-1.5,"6":-1.5,"7":-0.4,"8":-0.4,"9":-0.4,"10":-0.4,"11":-0.4,"12":-0.4,"13":-0.4,"14":-0.4,"15":-0.4,"16":-0.4,"17":-0.4,"18":-0.4,"19":-0.4,"20":-0.4,"21":-0.4,"22":-0.4,"23":-0.4,"24":-0.4},
{"i":86,"ch":243,"1":-1.5,"2":-1.5,"4":-1.5,"5":-1.5,"6":-1.5,"7":-0.4,"8":-0.4,"9":-0.4,"10":-0.4,"11":-0.4,"12":-0.4,"13":-0.4,"14":-0.4,"15":-0.4,"16":-0.4,"17":-0.4,"18":-0.4,"19":-0.4,"20":-0.4,"21":-0.4,"22":-0.4,"23":-0.4,"24":-0.4},
{"i":87,"ch":246,"1":-0.4,"2":-0.4,"4":-0.4,"5":-0.4,"6":-0.4,"7":-0.4,"8":-0.4,"9":-0.4,"10":-0.4,"11":-0.4,"12":-0.4,"13":-0.4,"14":-0.4,"15":-0.4,"16":-0.4,"17":-0.4,"18":-0.4,"19":-0.4,"20":-0.4,"21":-0.4,"22":-0.4,"23":-1.5,"24":-0.4},
{"i":88,"ch":249,"1":-0.4,"2":-0.4,"4":-0.4,"5":-0.4,"6":-0.4,"7":-0.4,"8":-0.4,"9":-0.4,"10":-0.4,"11":-0.4,"12":-0.4,"13":-0.4,"14":-0.4,"15":-0.4,"16":-0.4,"17":-0.4,"18":-0.4,"19":-0.4,"20":-0.4,"21":-0.4,"22":-0.4,"23":-1.5,"24":-0.4},
{"i":89,"ch":252,"1":-1.5,"2":-1.5,"4":-1.5,"5":-0.4,"6":-0.4,"7":-0.4,"8":-0.4,"9":-0.4,"10":-0.4,"11":-0.4,"12":-0.4,"13":-0.4,"14":-0.4,"15":-0.4,"16":-0.4,"17":-0.4,"18":-0.4,"19":-0.4,"20":-0.4,"21":-0.4,"22":-0.4,"23":-1.5,"24":-0.4},
{"i":90,"ch":254,"1":-0.4,"2":-0.4,"4":-0.4,"5":-0.4,"6":-0.4,"7":-0.4,"8":-0.4,"9":-0.4,"10":-0.4,"11":-0.4,"12":-0.4,"13":-0.4,"14":-0.4,"15":-0.4,"16":-0.4,"17":-0.4,"18":-0.4,"19":-0.4,"20":-0.4,"21":-0.4,"22":-0.4,"23":-0.4,"24":-0.4},
{"i":91,"ch":256,"1":-0.4,"2":-0.4,"4":-0.4,"5":-0.4,"6":-0.4,"7":-0.4,"8":-0.4,"9":-0.4,"10":-0.4,"11":-0.4,"12":-0.4,"13":-0.4,"14":-0.4,"15":-0.4,"16":-0.4,"17":-0.4,"18":-0.4,"19":-0.4,"20":-0.4,"21":-0.4,"22":-0.4,"23":-1.5,"24":-0.4},
{"i":92,"ch":258,"1":-1.5,"2":-1.5,"4":-1.5,"5":-0.4,"6":-0.4,"7":-0.4,"8":-0.4,"9":-0.4,"10":-0.4,"11":-0.4,"12":-0.4,"13":-0.4,"14":-0.4,"15":-0.4,"16":-0.4,"17":-0.4,"18":-0.4,"19":-0.4,"20":-0.4,"21":-0.4,"22":-0.4,"23":-1.5,"24":-0.4},
{"i":93,"ch":260,"1":-1.5,"2":-1.5,"4":-0.4,"5":-0.4,"6":-0.4,"7":-0.4,"8":-0.4,"9":-0.4,"10":-0.4,"11":-0.4,"12":-0.4,"13":-0.4,"14":-0.4,"15":-0.4,"16":-0.4,"17":-0.4,"18":-0.4,"19":-0.4,"20":-0.4,"21":-0.4,"22":-0.4,"23":-1.5,"24":-0.4},
{"i":94,"ch":262,"1":-1.5,"2":-1.5,"4":-1.5,"5":-0.4,"6":-0.4,"7":-0.4,"8":-0.4,"9":-0.4,"10":-0.4,"11":-0.4,"12":-0.4,"13":-0.4,"14":-0.4,"15":-0.4,"16":-0.4,"17":-0.4,"18":-0.4,"19":-0.4,"20":-0.4,"21":-0.4,"22":-0.4,"23":-1.5,"24":-0.4},
{"i":95,"ch":265,"1":-1.5,"2":-1.5,"4":-1.5,"5":-1.5,"6":-0.4,"7":-0.4,"8":-0.4,"9":-1.5,"10":-0.4,"11":-0.4,"12":-0.4,"13":-0.4,"14":-1.5,"15":-1.5,"16":-1.5,"17":-1.5,"18":-0.4,"19":-0.4,"20":-0.4,"21":-1.5,"22":-1.5,"23":-2.5,"24":-1.5},
{"i":96,"ch":267,"1":-1.5,"2":-1.5,"4":-1.5,"5":-0.4,"6":-0.4,"7":-0.4,"8":-0.4,"9":-0.4,"10":-0.4,"11":-0.4,"12":-0.4,"13":-0.4,"14":-0.4,"15":-0.4,"16":-0.4,"17":-0.4,"18":-0.4,"19":-0.4,"20":-0.4,"21":-0.4,"22":-0.4,"23":-1.5,"24":-0.4},
{"i":97,"ch":269,"1":-1.5,"2":-1.5,"4":-1.5,"5":-0.4,"6":-0.4,"7":-0.4,"8":-0.4,"9":-0.4,"10":-0.4,"11":-0.4,"12":-0.4,"13":-0.4,"14":-0.4,"15":-0.4,"16":-0.4,"17":-0.4,"18":-0.4,"19":-0.4,"20":-0.4,"21":-1.5,"22":-0.4,"23":-1.5,"24":-0.4},
{"i":98,"ch":271,"1":-2.5,"2":-2.5,"4":-2.5,"5":-1.5,"6":-1.5,"7":-1.5,"8":-1.5,"9":-2.5,"10":-1.5,"11":-1.5,"12":-1.5,"13":-1.5,"14":-2.5,"15":-2.5,"16":-2.5,"17":-2.5,"18":-1.5,"19":-1.5,"20":-1.5,"21":-2.5,"22":-2.5,"23":-3.5,"24":-2.5},
{"i":99,"ch":272,"1":-2.5,"2":-2.5,"4":-2.5,"5":-1.5,"6":-1.5,"7":-1.5,"8":-1.5,"9":-2.5,"10":-1.5,"11":-1.5,"12":-1.5,"13":-1.5,"14":-2.5,"15":-2.5,"16":-2.5,"17":-2.5,"18":-2.5,"19":-1.5,"20":-2.5,"21":-2.5,"22":-2.5,"23":-4.5,"24":-2.5}
                  ]},
                  "layer": [
                    {
                      "transform": [{"fold": ["1","2","4","5","6","7","8","9","10","11","12","13","14","15","16","17","18","19","20","21","22","23","24"], "as": ["day", "v"]}],
                      "mark": {"type": "tick", "thickness": 6, "size": 22, "stroke": "#a9a9b9", "strokeWidth": 0.8, "opacity": 1},
                      "encoding": {
                        "x": {"field": "day", "type": "ordinal",
                              "scale": {"domain": ["1","2","3","4","5","6","7","8","9","10","11","12","13","14","15","16","17","18","19","20","21","22","23","24"], "paddingInner": 0, "paddingOuter": 0},
                              "axis": {"orient": "bottom", "title": null, "labelAngle": 0, "tickBand": "extent", "tickSize": 3, "labelPadding": 1, "labelFontSize": 11, "domainWidth": 1.2}},
                        "y": {"field": "i", "type": "quantitative",
                              "scale": {"domain": [0, 100], "reverse": true, "nice": false, "zero": false},
                              "axis": {"orient": "left", "title": "Channel", "titleFontSize": 14, "titleFontWeight": "normal", "titlePadding": 9,
                                       "values": [0,1,2,3,4,5,6,7,8,9,10,11,12,13,14,15,16,17,18,19,20,21,22,23,24,25,26,27,28,29,30,31,32,33,34,35,36,37,38,39,40,41,42,43,44,45,46,47,48,49,50,51,52,53,54,55,56,57,58,59,60,61,62,63,64,65,66,67,68,69,70,71,72,73,74,75,76,77,78,79,80,81,82,83,84,85,86,87,88,89,90,91,92,93,94,95,96,97,98,99,100],
                                       "labelOverlap": false, "labelFlush": false, "labelBound": false, "labelFontSize": 12, "tickSize": 3, "labelPadding": 1}},
                        "color": {"field": "v", "type": "quantitative",
                                  "scale": {"type": "threshold", "domain": [-5,-4,-3,-2,-1,0,1,2,3,4,5],
                                            "range": ["#0000ff","#3333ff","#6666ff","#9999ff","#ccccff","#f6f6ff","#fff6f6","#ffcccc","#ff9999","#ff6666","#ff3333","#ff0000"]},
                                  "legend": null}
                      }
                    },
                    {
                      "mark": {"type": "text", "font": "Liberation Serif", "fontWeight": "bold", "fontSize": 11, "color": "#ff0000", "align": "right", "baseline": "middle", "dx": 9},
                      "encoding": {
                        "x": {"datum": "2", "type": "ordinal", "axis": {"orient": "top", "labels": false, "title": null, "tickBand": "extent", "tickSize": 4, "domainWidth": 1.2}},
                        "y": {"field": "i", "type": "quantitative",
                              "axis": {"orient": "right", "labels": false, "title": null, "tickSize": 3,
                                       "values": [0,1,2,3,4,5,6,7,8,9,10,11,12,13,14,15,16,17,18,19,20,21,22,23,24,25,26,27,28,29,30,31,32,33,34,35,36,37,38,39,40,41,42,43,44,45,46,47,48,49,50,51,52,53,54,55,56,57,58,59,60,61,62,63,64,65,66,67,68,69,70,71,72,73,74,75,76,77,78,79,80,81,82,83,84,85,86,87,88,89,90,91,92,93,94,95,96,97,98,99,100]}},
                        "text": {"field": "ch"}
                      }
                    }
                  ],
                  "resolve": {"axis": {"x": "independent", "y": "independent"}}
                },
                {
                  "width": 12,
                  "height": 745,
                  "layer": [
                    {
                      "data": {"values": [
                        {"lo": -6, "hi": -5}, {"lo": -5, "hi": -4}, {"lo": -4, "hi": -3}, {"lo": -3, "hi": -2},
                        {"lo": -2, "hi": -1}, {"lo": -1, "hi": 0}, {"lo": 0, "hi": 1}, {"lo": 1, "hi": 2},
                        {"lo": 2, "hi": 3}, {"lo": 3, "hi": 4}, {"lo": 4, "hi": 5}, {"lo": 5, "hi": 6}
                      ]},
                      "mark": {"type": "rect", "stroke": "black", "strokeWidth": 1},
                      "encoding": {
                        "y": {"field": "lo", "type": "quantitative",
                              "scale": {"domain": [-6.42, 38.51], "nice": false, "zero": false},
                              "axis": {"orient": "right", "title": null, "values": [-6,-5,-4,-3,-2,-1,0,1,2,3,4,5,6], "tickSize": 3, "labelPadding": 10, "labelAlign": "right", "labelFontSize": 9, "domain": false, "labelFlush": false, "labelOverlap": false}},
                        "y2": {"field": "hi"},
                        "color": {"field": "lo", "type": "quantitative",
                                  "scale": {"type": "threshold", "domain": [-5,-4,-3,-2,-1,0,1,2,3,4,5],
                                            "range": ["#0000ff","#3333ff","#6666ff","#9999ff","#ccccff","#f6f6ff","#fff6f6","#ffcccc","#ff9999","#ff6666","#ff3333","#ff0000"]},
                                  "legend": null}
                      }
                    },
                    {
                      "data": {"values": [{"v": 6}]},
                      "mark": {"type": "point", "shape": "M-1,0L1,0L0,-1Z", "filled": true, "fill": "white", "stroke": "black", "strokeWidth": 1, "size": 144, "opacity": 1},
                      "encoding": {"y": {"field": "v", "type": "quantitative"}}
                    },
                    {
                      "data": {"values": [{"v": -6}]},
                      "mark": {"type": "point", "shape": "M-1,0L1,0L0,1Z", "filled": true, "fill": "black", "size": 144, "opacity": 1},
                      "encoding": {"y": {"field": "v", "type": "quantitative"}}
                    }
                  ]
                }
              ],
              "spacing": 0
            }
          ],
          "spacing": 16
        }
      ],
      "spacing": 0
    }
  ],
  "spacing": 0
}
